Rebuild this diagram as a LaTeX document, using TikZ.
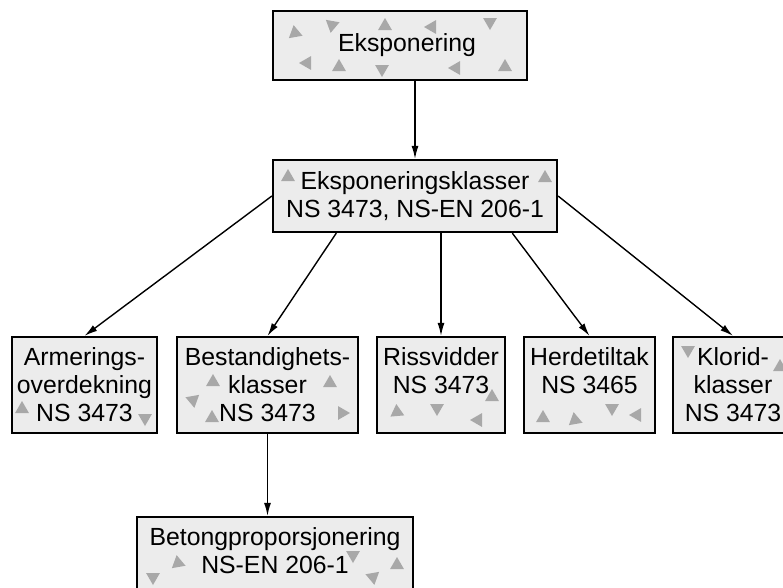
\documentclass[tikz,border=0pt]{standalone}
\usepackage{fontspec}
\setmainfont{Liberation Sans}
\usetikzlibrary{arrows.meta,calc}

\definecolor{boksfyll}{gray}{0.925}
\definecolor{kornfarge}{gray}{0.66}

% Треугольник-"зерно": x, y, направление вершины
\newcommand{\korn}[3]{\fill[korn, shift={(#1,#2)}] (#3:8) -- (#3+120:8) -- (#3+240:8) -- cycle;}

\begin{document}
\begin{tikzpicture}[
        x=1pt, y=-1pt, % Координаты в пикселях, ось y вниз
        boks/.style={draw, line width=2.2pt, fill=boksfyll, inner sep=0pt, align=center,
                font=\fontsize{24.8}{28}\selectfont}, % Стиль блоков
        pil/.style={draw, line width=1.4pt, -{Latex[length=13pt, width=7pt]}}, % Стрелки
        korn/.style={fill=kornfarge},
    ]
    \useasboundingbox (0,0) rectangle (783,587);
    \clip (0,0) rectangle (783,587);

    % Блоки
    \node[boks, minimum width=254pt, minimum height=69pt] (eksp) at (400,45.5) {\hspace*{14pt}Eksponering};
    \node[boks, minimum width=284pt, minimum height=72pt] (klasser) at (415,196)
        {Eksponeringsklasser\\NS 3473, NS-EN 206-1};
    \node[boks, minimum width=145pt, minimum height=96pt] (armering) at (84.5,385)
        {Armerings-\\overdekning\\NS 3473};
    \node[boks, minimum width=181pt, minimum height=96pt] (bestand) at (267.5,385)
        {Bestandighets-\\klasser\\NS 3473};
    \node[boks, minimum width=128pt, minimum height=96pt] (riss) at (441,385)
        {Rissvidder\\NS 3473\\\phantom{N}};
    \node[boks, minimum width=131pt, minimum height=96pt] (herde) at (589.5,385)
        {Herdetiltak\\NS 3465\\\phantom{N}};
    \node[boks, minimum width=120pt, minimum height=96pt] (klorid) at (733,385)
        {Klorid-\\klasser\\NS 3473};
    \node[boks, minimum width=276pt, minimum height=96pt] (beton) at (275,565)
        {Betongproporsjonering\\NS-EN 206-1\\\phantom{N}};

    % Зерна в блоках
    \korn{295}{33}{-100} \korn{332}{25}{100} \korn{385}{26}{-90} \korn{432}{27}{180} \korn{490}{22}{90}
    \korn{307}{63}{180} \korn{339}{67}{-90} \korn{382}{69}{90} \korn{456}{68}{180} \korn{505}{67}{-90}
    \korn{288}{177}{-90} \korn{545}{178}{-90}
    \korn{22}{409}{-90} \korn{145}{418}{90}
    \korn{213}{382}{-90} \korn{330}{383}{-90} \korn{193}{400}{80} \korn{212}{418}{-90} \korn{342}{413}{0}
    \korn{492}{397}{-90} \korn{397}{412}{-95} \korn{437}{408}{90} \korn{478}{420}{180}
    \korn{543}{418}{-90} \korn{575}{420}{20} \korn{612}{408}{90} \korn{637}{415}{180}
    \korn{688}{350}{90} \korn{780}{367}{-90}
    \korn{178}{563}{-100} \korn{153}{577}{90} \korn{353}{555}{90} \korn{373}{577}{80} \korn{397}{565}{-90}

    % Связи
    \draw[pil] (eksp.south -| klasser.north) -- (klasser.north);
    \draw[pil] (klasser.west) -- (armering.north);
    \draw[pil] ($(klasser.south west)!0.225!(klasser.south east)$) -- (bestand.north);
    \draw[pil] (klasser.south -| riss.north) -- (riss.north);
    \draw[pil] ($(klasser.south west)!0.84!(klasser.south east)$) -- (herde.north);
    \draw[pil] (klasser.east) -- (klorid.north);
    \draw[pil] (bestand.south) -- (bestand.south |- beton.north);
\end{tikzpicture}
\end{document}
